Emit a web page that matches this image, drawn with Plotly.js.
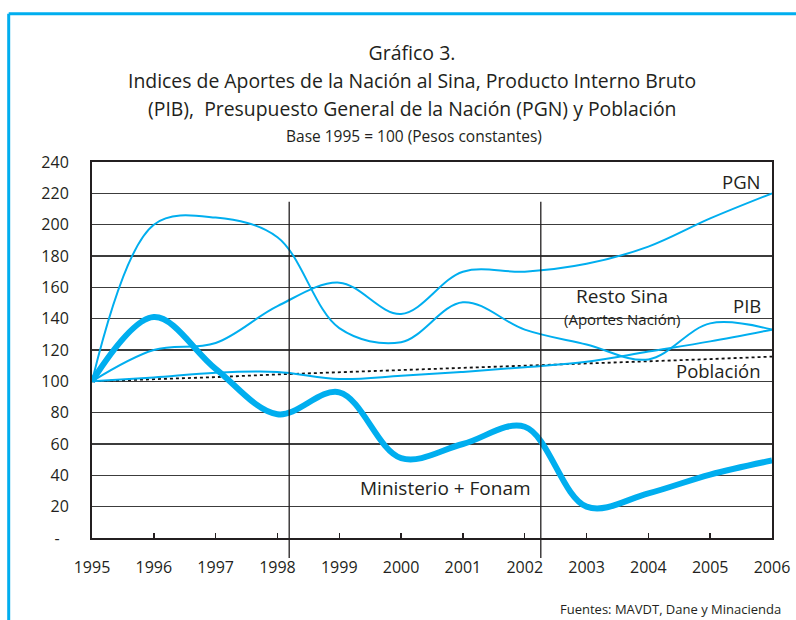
<!DOCTYPE html>
<html>
<head>
<meta charset="utf-8">
<script src="https://cdn.plot.ly/plotly-3.0.1.min.js"></script>
<style>
html,body{margin:0;padding:0;background:#fff;}
#chart{width:796px;height:620px;}
</style>
</head>
<body>
<div id="chart"></div>
<script>
const years = [1995,1996,1997,1998,1999,2000,2001,2002,2003,2004,2005,2006];
const ministerioFonam = [100,141,108,79,93,51,60,71,20,28.5,40.5,49.5];
const restoSina = [100,200,204.5,192,134,125,150.5,133,123.5,114,137,133];
const pgn = [100,120,124.5,148,163,143,170,170,175,186,204,220];
const pib = [100,102.5,105.5,106,101.5,103.5,106,109,112.5,119,125.5,133];
const poblacion = [100,101.3,102.7,104.4,105.8,107.1,108.4,109.7,111.2,112.7,114.2,115.8];
const yTickVals = [0,20,40,60,80,100,120,140,160,180,200,220,240];
const yTickText = ["-\u2007","20","40","60","80","100","120","140","160","180","200","220","240"];
const periodBreaks = [1998.19, 2002.26];

const blue = '#00AEEF';
const ink = '#231f20';
const grid = '#3c3c3c';
const FONT = '"Open Sans", "DejaVu Sans", sans-serif';

const traces = [
  {x: years, y: poblacion, name: 'Población', type: 'scatter', mode: 'lines',
   line: {color: '#111', width: 1.8, dash: 'dot'}},
  {x: years, y: pib, name: 'PIB', type: 'scatter', mode: 'lines',
   line: {color: blue, width: 2, shape: 'spline', smoothing: 1}},
  {x: years, y: pgn, name: 'PGN', type: 'scatter', mode: 'lines',
   line: {color: blue, width: 2, shape: 'spline', smoothing: 1}},
  {x: years, y: restoSina, name: 'Resto Sina', type: 'scatter', mode: 'lines',
   line: {color: blue, width: 2, shape: 'spline', smoothing: 1}},
  {x: years, y: ministerioFonam, name: 'Ministerio + Fonam', type: 'scatter', mode: 'lines',
   line: {color: blue, width: 6, shape: 'spline', smoothing: 1}}
];

const shapes = periodBreaks.map(v => ({
  type: 'line', xref: 'x', yref: 'paper', x0: v, x1: v, y0: -0.053, y1: 0.894,
  line: {color: ink, width: 1.3}, layer: 'above'
}));
// outer blue frame (top and left edges)
shapes.push({type: 'line', xref: 'paper', yref: 'paper', x0: -0.1225, x1: 1.06, y0: 1.3944, y1: 1.3944,
  line: {color: blue, width: 3}});
shapes.push({type: 'line', xref: 'paper', yref: 'paper', x0: -0.1225, x1: -0.1225, y0: 1.3944, y1: -0.25,
  line: {color: blue, width: 3}});

const ann = (text, x, y, size, xanchor, extra) => Object.assign({
  text: text, x: x, y: y, xref: 'x', yref: 'y', showarrow: false,
  xanchor: xanchor || 'center', yanchor: 'middle',
  font: {family: FONT, size: size, color: ink}
}, extra || {});

const annotations = [
  ann('Indices de Aportes de la Nación al Sina, Producto Interno Bruto', 0.4706, 1.218, 19.4, 'center', {xref: 'paper', yref: 'paper'}),
  ann('(PIB),  Presupuesto General de la Nación (PGN) y Población', 0.4706, 1.141, 19.4, 'center', {xref: 'paper', yref: 'paper'}),
  ann('Base 1995 = 100 (Pesos constantes)', 0.4735, 1.069, 15.5, 'center', {xref: 'paper', yref: 'paper'}),
  ann('PGN', 2005.86, 227.5, 18.5, 'right'),
  ann('Resto Sina', 2003.58, 154.5, 19, 'center', {borderpad: 0}),
  ann('(Aportes Nación)', 2003.58, 139.5, 15, 'center', {borderpad: 0}),
  ann('PIB', 2005.86, 148.7, 18.5, 'right'),
  ann('Población', 2005.86, 106.6, 18.5, 'right'),
  ann('Ministerio + Fonam', 2000.72, 32, 19, 'center'),
  ann('Fuentes: MAVDT, Dane y Minacienda', 1.016, -0.189, 13, 'right', {xref: 'paper', yref: 'paper'})
];

const layout = {
  width: 796, height: 620,
  margin: {l: 92, r: 24, t: 162, b: 82, pad: 0},
  paper_bgcolor: '#fff', plot_bgcolor: '#fff',
  showlegend: false,
  font: {family: FONT, color: ink, size: 16},
  title: {text: 'Gráfico 3.', x: 412/796, xanchor: 'center', xref: 'container',
          y: 1 - 53/620, yanchor: 'middle', yref: 'container',
          font: {family: FONT, size: 19.5, color: ink}},
  xaxis: {range: [1995, 2006], tickmode: 'array', tickvals: years, ticktext: years.map(String),
          showgrid: false, zeroline: false, showline: true, linecolor: ink, linewidth: 2,
          mirror: true, ticks: 'inside', ticklen: 5, tickwidth: 1.5, tickcolor: ink,
          ticklabelstandoff: 14, tickfont: {family: FONT, size: 16, color: ink}, fixedrange: true},
  yaxis: {range: [0, 240], tickmode: 'array', tickvals: yTickVals, ticktext: yTickText,
          showgrid: true, gridcolor: grid, gridwidth: 1.5, zeroline: false,
          showline: true, linecolor: ink, linewidth: 2, mirror: true, ticks: '',
          ticklabelstandoff: 18, tickfont: {family: FONT, size: 16, color: ink}, fixedrange: true},
  shapes: shapes,
  annotations: annotations
};

Plotly.newPlot('chart', traces, layout, {displayModeBar: false, staticPlot: true});
</script>
</body>
</html>
